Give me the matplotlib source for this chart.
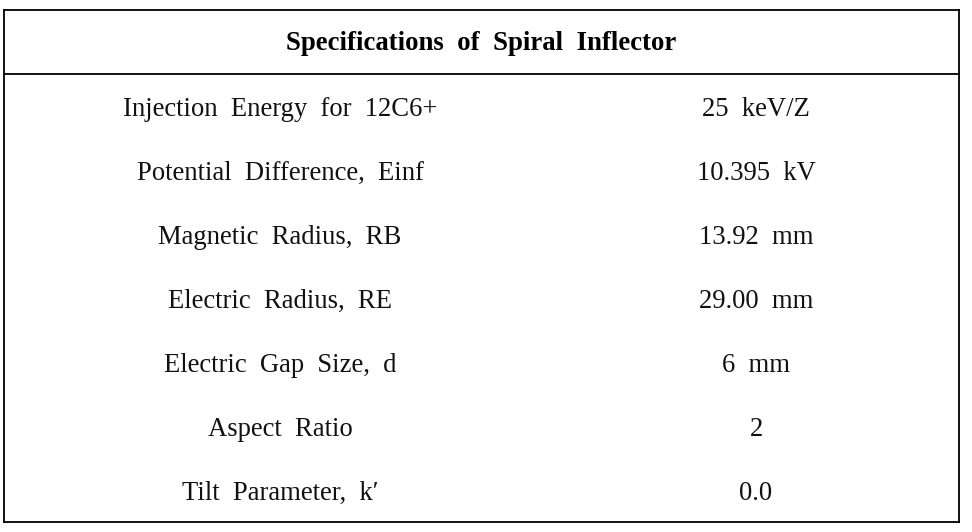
import matplotlib
matplotlib.use("Agg")
import matplotlib.pyplot as plt

title = "Specifications  of  Spiral  Inflector"
params = ["Injection  Energy  for  12C6+",
          "Potential  Difference,  Einf",
          "Magnetic  Radius,  RB",
          "Electric  Radius,  RE",
          "Electric  Gap  Size,  d",
          "Aspect  Ratio",
          "Tilt  Parameter,  k\u2032"]
values = ["25  keV/Z",
          "10.395  kV",
          "13.92  mm",
          "29.00  mm",
          "6  mm",
          "2",
          "0.0"]

fig = plt.figure(figsize=(9.72, 5.32), dpi=100)
ax = fig.add_axes([0, 0, 1, 1])
ax.set_xlim(0, 972)
ax.set_ylim(532, 0)
ax.axis("off")

left, right = 3.5, 958.5
top, head_bot = 10, 74
row_h = 64
bottom = head_bot + row_h * len(params)
col1_x, col2_x = 280, 756

lw = 1.3
ax.plot([left, right], [top, top], color="black", lw=lw)
ax.plot([left, right], [head_bot, head_bot], color="black", lw=lw)
ax.plot([left, right], [bottom, bottom], color="black", lw=lw)
ax.plot([left, left], [top, bottom], color="black", lw=lw)
ax.plot([right, right], [top, bottom], color="black", lw=lw)

font = ["Liberation Serif", "DejaVu Serif"]
ax.text((left + right) / 2, (top + head_bot) / 2 + 2, title, ha="center",
        va="center", fontsize=19.3, fontweight="bold", family=font)

for i, (p, v) in enumerate(zip(params, values)):
    y = head_bot + row_h * (i + 0.5) + 3
    ax.text(col1_x, y, p, ha="center", va="center", fontsize=19.2,
            family=font, color="#111111")
    ax.text(col2_x, y, v, ha="center", va="center", fontsize=19.2,
            family=font, color="#111111")

fig.savefig("out.png", dpi=100)
